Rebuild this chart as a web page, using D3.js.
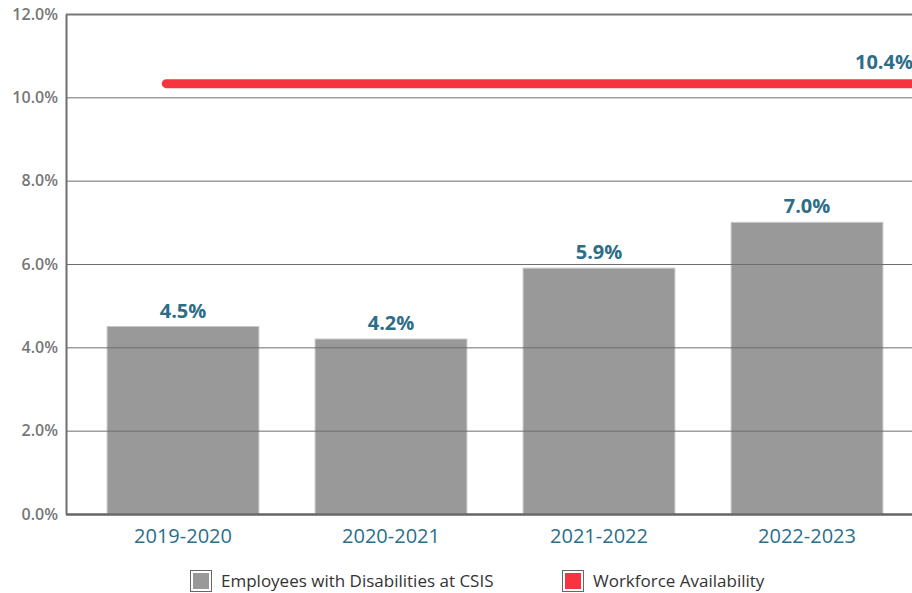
<!DOCTYPE html>
<html>
<head>
<meta charset="utf-8">
<script src="https://cdn.jsdelivr.net/npm/d3@7"></script>
<style>
  html, body { margin: 0; padding: 0; background: #fff; }
  svg { display: block; font-family: "Open Sans", sans-serif; }
</style>
</head>
<body>
<svg id="chart" width="912" height="593"></svg>
<script>
const categories = ["2019-2020", "2020-2021", "2021-2022", "2022-2023"];
const employeeValues = [4.5, 4.2, 5.9, 7.0];
const availabilityValue = 10.4;
const yTicks = [0, 2, 4, 6, 8, 10, 12];
const legendLabels = ["Employees with Disabilities at CSIS", "Workforce Availability"];

const svg = d3.select("#chart");
const W = 912, H = 593;
const plot = { left: 66, top: 14, bottom: 514, right: 912 };

const x = d3.scaleBand().domain(categories).range([79, 911]).paddingInner(0.27).paddingOuter(0.135);
const y = d3.scaleLinear().domain([0, 12]).range([plot.bottom, plot.top]);

const fmt = d => d.toFixed(1) + "%";

// bars
svg.append("g").selectAll("rect").data(employeeValues).join("rect")
  .attr("x", (d, i) => x(categories[i]))
  .attr("y", d => y(d))
  .attr("width", x.bandwidth())
  .attr("height", d => y(0) - y(d))
  .attr("fill", "#999999")
  .attr("stroke", "#c8c8c8")
  .attr("stroke-width", 1);

// gridlines
const grid = svg.append("g").attr("transform", `translate(${plot.left},0)`)
  .call(d3.axisLeft(y).tickValues(yTicks).tickSize(-(plot.right - plot.left)).tickFormat(""));
grid.select(".domain").remove();
grid.selectAll(".tick line").attr("stroke", "#6e6e6e").attr("stroke-width", 1);
grid.selectAll(".tick").filter(d => d === 12).select("line").attr("stroke", "#777").attr("stroke-width", 2);
grid.selectAll(".tick").filter(d => d === 0).select("line").attr("stroke", "#666").attr("stroke-width", 2.5);

// left axis
const yAxis = svg.append("g").attr("transform", `translate(${plot.left},0)`)
  .call(d3.axisLeft(y).tickValues(yTicks).tickSize(0).tickPadding(8).tickFormat(fmt));
yAxis.select(".domain").attr("stroke", "#6e6e6e").attr("stroke-width", 2);
yAxis.selectAll("text").attr("fill", "#777").attr("font-size", 16).attr("font-weight", 600)
  .attr("font-family", "'Open Sans', sans-serif");

// x axis labels
const xAxis = svg.append("g").attr("transform", `translate(0,${plot.bottom})`)
  .call(d3.axisBottom(x).tickSize(0).tickPadding(10));
xAxis.select(".domain").remove();
xAxis.selectAll("text").attr("fill", "#2a6f8c").attr("font-size", 20).attr("font-weight", 500)
  .attr("font-family", "'Open Sans', sans-serif").attr("dy", "0.95em");

// bar value labels
svg.append("g").selectAll("text").data(employeeValues).join("text")
  .attr("x", (d, i) => x(categories[i]) + x.bandwidth() / 2)
  .attr("y", d => y(d) - 9)
  .attr("text-anchor", "middle")
  .attr("fill", "#2e6d88").attr("font-size", 20).attr("font-weight", 700)
  .text(fmt);

// availability line
const lineY = y(availabilityValue) + 3;
const lineStart = x(categories[0]) + x.bandwidth() * 0.39;
svg.append("line")
  .attr("x1", lineStart).attr("x2", W + 20)
  .attr("y1", lineY).attr("y2", lineY)
  .attr("stroke", "#f5343f").attr("stroke-width", 9).attr("stroke-linecap", "round");
svg.append("text")
  .attr("x", W + 1).attr("y", lineY - 15)
  .attr("text-anchor", "end")
  .attr("fill", "#2e6d88").attr("font-size", 20).attr("font-weight", 700)
  .text(fmt(availabilityValue));

// legend
const legendColors = ["#999999", "#f5343f"];
const legendX = [190, 562];
const lg = svg.append("g").selectAll("g").data(legendLabels).join("g")
  .attr("transform", (d, i) => `translate(${legendX[i]},570)`);
lg.append("rect").attr("x", 0.5).attr("y", 0.5).attr("width", 21).attr("height", 21)
  .attr("fill", "#fff").attr("stroke", "#666").attr("stroke-width", 1);
lg.append("rect").attr("x", 3).attr("y", 3).attr("width", 16).attr("height", 16)
  .attr("fill", (d, i) => legendColors[i]);
lg.append("text").attr("x", 31).attr("y", 17)
  .attr("fill", "#333").attr("font-size", 17)
  .text(d => d);
</script>
</body>
</html>
